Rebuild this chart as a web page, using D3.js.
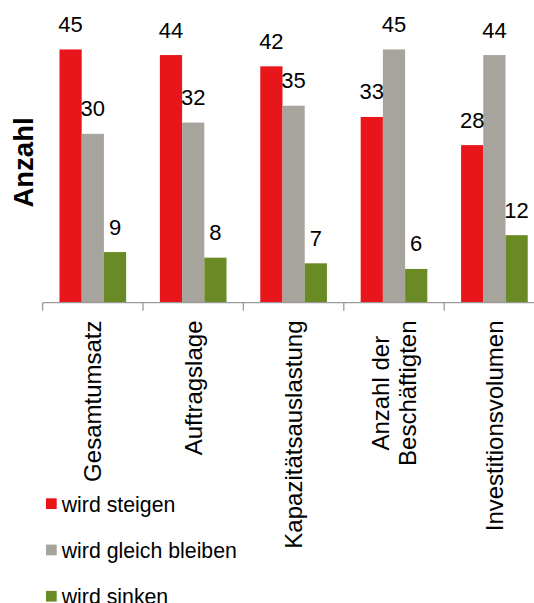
<!DOCTYPE html>
<html>
<head>
<meta charset="utf-8">
<script src="https://cdn.jsdelivr.net/npm/d3@7"></script>
<style>
  body { margin: 0; background: #fff; }
  svg { display: block; font-family: "Liberation Sans", Arial, sans-serif; }
</style>
</head>
<body>
<div id="chart"></div>
<script>
// Data
const categories = ["Gesamtumsatz", "Auftragslage", "Kapazitätsauslastung", "Anzahl der|Beschäftigten", "Investitionsvolumen"];
const seriesNames = ["wird steigen", "wird gleich bleiben", "wird sinken"];
const steigen = [45, 44, 42, 33, 28];
const gleich = [30, 32, 35, 45, 44];
const sinken = [9, 8, 7, 6, 12];
const seriesColors = ["#e8161a", "#a7a39d", "#6a8a26"];

const width = 534, height = 603;
const baseY = 302.7;

const svg = d3.select("#chart").append("svg")
  .attr("width", width)
  .attr("height", height);

const table = categories.map((c, i) => ({ cat: c, values: [steigen[i], gleich[i], sinken[i]] }));

const x0 = d3.scaleBand()
  .domain(categories)
  .range([42.6, 544.6]);

const x1 = d3.scaleBand()
  .domain(seriesNames)
  .range([0, x0.bandwidth()])
  .paddingOuter(0.76);

const y = d3.scaleLinear()
  .domain([0, 50])
  .range([baseY, 21.3]);

// Bars
const groups = svg.append("g").selectAll("g")
  .data(table)
  .join("g")
  .attr("transform", d => `translate(${x0(d.cat)},0)`);

groups.selectAll("rect")
  .data(d => d.values.map((v, i) => ({ name: seriesNames[i], value: v, idx: i })))
  .join("rect")
  .attr("x", d => x1(d.name))
  .attr("y", d => y(d.value))
  .attr("width", x1.bandwidth())
  .attr("height", d => baseY - y(d.value))
  .attr("fill", d => seriesColors[d.idx]);

groups.selectAll("text.val")
  .data(d => d.values.map((v, i) => ({ name: seriesNames[i], value: v })))
  .join("text")
  .attr("class", "val")
  .attr("x", d => x1(d.name) + x1.bandwidth() / 2)
  .attr("y", d => y(d.value) - 17.5)
  .attr("text-anchor", "middle")
  .attr("font-size", "22px")
  .attr("fill", "#000")
  .text(d => d.value);

// X axis
const axis = svg.append("g");
axis.append("line")
  .attr("x1", x0.range()[0]).attr("x2", width)
  .attr("y1", baseY).attr("y2", baseY)
  .attr("stroke", "#9a9a9a").attr("stroke-width", 1.3);

axis.selectAll("line.tick")
  .data(categories)
  .join("line")
  .attr("class", "tick")
  .attr("x1", d => x0(d)).attr("x2", d => x0(d))
  .attr("y1", baseY).attr("y2", baseY + 8)
  .attr("stroke", "#9a9a9a").attr("stroke-width", 1.3);

// Category labels, rotated, block top at y=320
categories.forEach(c => {
  const lines = c.split("|");
  const cx = x0(c) + x0.bandwidth() / 2;
  const g = svg.append("g");
  const texts = lines.map(l => g.append("text")
    .attr("font-size", "24px")
    .attr("text-anchor", "middle")
    .attr("fill", "#000")
    .text(l));
  const maxLen = d3.max(texts, t => t.node().getComputedTextLength());
  const cy = 320.5 + maxLen / 2;
  const lineH = 27.2;
  texts.forEach((t, i) => {
    const lx = cx + (i - (lines.length - 1) / 2) * lineH + 8.5;
    t.attr("transform", `translate(${lx},${cy}) rotate(-90)`);
  });
});

// Y axis title
svg.append("text")
  .attr("transform", "translate(33,162.5) rotate(-90)")
  .attr("text-anchor", "middle")
  .attr("font-size", "27.5px")
  .attr("font-weight", "bold")
  .attr("fill", "#000")
  .text("Anzahl");

// Legend
const legend = svg.append("g").attr("transform", "translate(46,498.3)");
const rows = legend.selectAll("g")
  .data(seriesNames)
  .join("g")
  .attr("transform", (d, i) => `translate(0,${i * 46.3})`);

rows.append("rect")
  .attr("width", 10.7).attr("height", 10.7)
  .attr("fill", (d, i) => seriesColors[i]);

rows.append("text")
  .attr("x", 15.7)
  .attr("y", 13.3)
  .attr("font-size", "21.3px")
  .attr("fill", "#000")
  .text(d => d);
</script>
</body>
</html>
